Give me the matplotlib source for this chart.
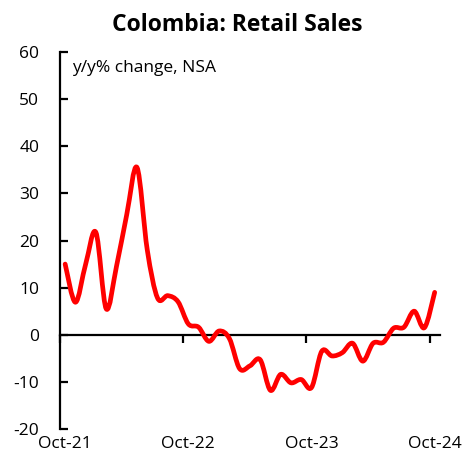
import numpy as np
import matplotlib.pyplot as plt
from matplotlib.path import Path
from matplotlib.patches import PathPatch

plt.rcParams['font.family'] = ['Open Sans', 'DejaVu Sans']
plt.rcParams['axes.unicode_minus'] = False

# monthly y/y % change, Oct-21 .. Oct-24
months = ['Oct-21', 'Nov-21', 'Dec-21', 'Jan-22', 'Feb-22', 'Mar-22', 'Apr-22', 'May-22',
          'Jun-22', 'Jul-22', 'Aug-22', 'Sep-22', 'Oct-22', 'Nov-22', 'Dec-22', 'Jan-23',
          'Feb-23', 'Mar-23', 'Apr-23', 'May-23', 'Jun-23', 'Jul-23', 'Aug-23', 'Sep-23',
          'Oct-23', 'Nov-23', 'Dec-23', 'Jan-24', 'Feb-24', 'Mar-24', 'Apr-24', 'May-24',
          'Jun-24', 'Jul-24', 'Aug-24', 'Sep-24', 'Oct-24']
retail = [15.0, 6.9, 15.0, 21.7, 5.5, 14.5, 25.5, 35.5, 18.0, 7.8, 8.3, 7.0,
          2.3, 1.6, -1.4, 0.8, -0.8, -7.2, -6.6, -5.3, -11.8, -8.4, -10.2, -9.5,
          -11.2, -3.5, -4.5, -3.8, -1.8, -5.6, -1.8, -1.6, 1.4, 1.6, 5.0, 1.5, 9.0]
label_months = ['Oct-21', 'Oct-22', 'Oct-23', 'Oct-24']

x = np.arange(len(retail)) + 0.5
y = np.array(retail)

fig = plt.figure(figsize=(4.66, 4.63), dpi=100)
ax = fig.add_axes([0.1288, 0.0734, 0.815, 0.8143])

# smoothed line (Catmull-Rom -> cubic bezier)
pts = np.column_stack([x, y])
ext = np.vstack([pts[0], pts, pts[-1]])
verts = [pts[0]]
codes = [Path.MOVETO]
for i in range(1, len(ext) - 2):
    p0, p1, p2, p3 = ext[i - 1], ext[i], ext[i + 1], ext[i + 2]
    verts += [p1 + (p2 - p0) / 6, p2 - (p3 - p1) / 6, p2]
    codes += [Path.CURVE4] * 3
ax.add_patch(PathPatch(Path(verts, codes), facecolor='none', edgecolor='#FF0000',
                       lw=3.4, capstyle='round', joinstyle='round', zorder=3))

ax.set_xlim(0, 37)
ax.set_ylim(-20, 60)

ax.spines[['top', 'right', 'bottom']].set_visible(False)
ax.spines['left'].set_linewidth(1.6)
ax.set_yticks(range(-20, 61, 10))
ax.tick_params(axis='y', direction='in', length=6, width=1.6, labelsize=12.5, pad=15)

# labels centred on the months, ticks between categories
ax.set_xticks([months.index(m) + 0.5 for m in label_months])
ax.set_xticklabels(label_months)
ax.tick_params(axis='x', length=0, labelsize=12.5, pad=5)

zero = ax.secondary_xaxis(0.25)
zero.spines['bottom'].set_linewidth(1.6)
zero.set_xticks([months.index(m) for m in label_months])
zero.set_xticklabels([])
zero.tick_params(axis='x', direction='out', length=6, width=1.6)

ax.text(1.2, 56.5, 'y/y% change, NSA', fontsize=12.5, va='center', ha='left')
fig.suptitle('Colombia: Retail Sales', x=0.51, y=0.972, fontsize=16.5, fontweight='bold')

fig.savefig('out.png', dpi=100)
